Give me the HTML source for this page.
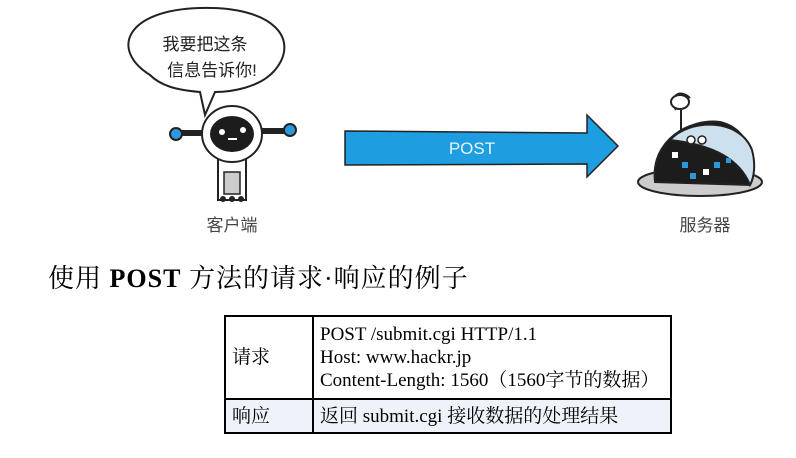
<!DOCTYPE html>
<html><head><meta charset="utf-8"><style>
body{margin:0;width:796px;height:458px;background:#fff;overflow:hidden;position:relative;font-family:"Liberation Serif","Noto Serif CJK SC",serif;}
.t{position:absolute;white-space:nowrap}
table{position:absolute;left:224px;top:315px;border-collapse:collapse;font-size:19px;line-height:23px}
td{border:2px solid #000;padding:0 6px;vertical-align:middle}
</style></head><body>
<svg width="796" height="250" style="position:absolute;left:0;top:0">
<path d="M150,75 C110,50 125,10 200,8 C275,6 300,40 275,70 C260,88 230,92 215,92 L205,115 L200,92 C175,90 160,85 150,75Z" fill="#fff" stroke="#222" stroke-width="2"/>
<text x="205" y="50" font-family="WenQuanYi Zen Hei,sans-serif" font-size="17" text-anchor="middle" fill="#222">我要把这条</text>
<text x="212" y="76" font-family="WenQuanYi Zen Hei,sans-serif" font-size="17" text-anchor="middle" fill="#222">信息告诉你!</text>
<line x1="180" y1="133" x2="205" y2="133" stroke="#222" stroke-width="6"/>
<line x1="260" y1="131" x2="288" y2="131" stroke="#222" stroke-width="6"/>
<circle cx="176" cy="134" r="6" fill="#2a9ad8" stroke="#222" stroke-width="2"/>
<circle cx="290" cy="130" r="6" fill="#2a9ad8" stroke="#222" stroke-width="2"/>
<rect x="218" y="158" width="28" height="42" fill="#fff" stroke="#222" stroke-width="2"/>
<rect x="224" y="172" width="16" height="22" fill="#ccc" stroke="#222" stroke-width="1.5"/>
<circle cx="223" cy="199" r="3" fill="#222"/><circle cx="232" cy="199" r="3" fill="#222"/><circle cx="241" cy="199" r="3" fill="#222"/>
<ellipse cx="232" cy="134" rx="30" ry="28" fill="#fff" stroke="#222" stroke-width="2"/>
<ellipse cx="232" cy="134" rx="22" ry="18" fill="#1c1c1c"/>
<circle cx="222" cy="132" r="3" fill="#fff"/><circle cx="243" cy="130" r="3" fill="#fff"/>
<rect x="228" y="138" width="9" height="2" fill="#fff"/>
<path d="M345,131 L587,133 L587,115 L618,146 L587,177 L587,164 L345,165 Z" fill="#1e9ee0" stroke="#222" stroke-width="1.5"/>
<text x="472" y="154" font-family="Liberation Sans,sans-serif" font-size="17" fill="#e8f6ff" text-anchor="middle">POST</text>
<path d="M676,110 C668,96 680,88 690,98" fill="none" stroke="#222" stroke-width="2"/>
<ellipse cx="680" cy="102" rx="9" ry="7" fill="#fff" stroke="#222" stroke-width="2"/>
<line x1="681" y1="110" x2="681" y2="135" stroke="#222" stroke-width="2"/>
<ellipse cx="700" cy="182" rx="62" ry="14" fill="#ccc" stroke="#222" stroke-width="2"/>
<path d="M655,182 C650,140 690,118 720,122 C748,128 758,160 750,185 Z" fill="#1c1c1c" stroke="#222" stroke-width="2"/>
<path d="M670,140 C690,118 740,118 752,150 C756,165 754,178 750,185 C740,160 715,145 670,140Z" fill="#cde0ee" stroke="#222" stroke-width="2"/>
<circle cx="691" cy="140" r="4" fill="#fff" stroke="#222" stroke-width="1.5"/><circle cx="702" cy="140" r="4" fill="#fff" stroke="#222" stroke-width="1.5"/>
<rect x="672" y="152" width="6" height="6" fill="#fff"/><rect x="682" y="162" width="6" height="6" fill="#2a9ad8"/><rect x="690" y="173" width="6" height="6" fill="#2a9ad8"/><rect x="703" y="169" width="6" height="6" fill="#fff"/><rect x="714" y="162" width="6" height="6" fill="#2a9ad8"/><rect x="726" y="158" width="5" height="5" fill="#2a9ad8"/>
<text x="232" y="231" font-family="WenQuanYi Zen Hei,sans-serif" font-size="17" text-anchor="middle" fill="#444">客户端</text>
<text x="705" y="231" font-family="WenQuanYi Zen Hei,sans-serif" font-size="17" text-anchor="middle" fill="#444">服务器</text>
</svg>
<div class="t" style="left:48px;top:258px;font-size:26px;letter-spacing:1px">使用 <b>POST</b> 方法的请求·响应的例子</div>
<table>
<tr style="height:83px"><td style="width:74px">请求</td><td style="width:344px">POST /submit.cgi HTTP/1.1<br>Host: www.hackr.jp<br>Content-Length: 1560（1560字节的数据）</td></tr>
<tr style="height:34px;background:#eef3fa"><td>响应</td><td>返回 submit.cgi 接收数据的处理结果</td></tr>
</table>
</body></html>
